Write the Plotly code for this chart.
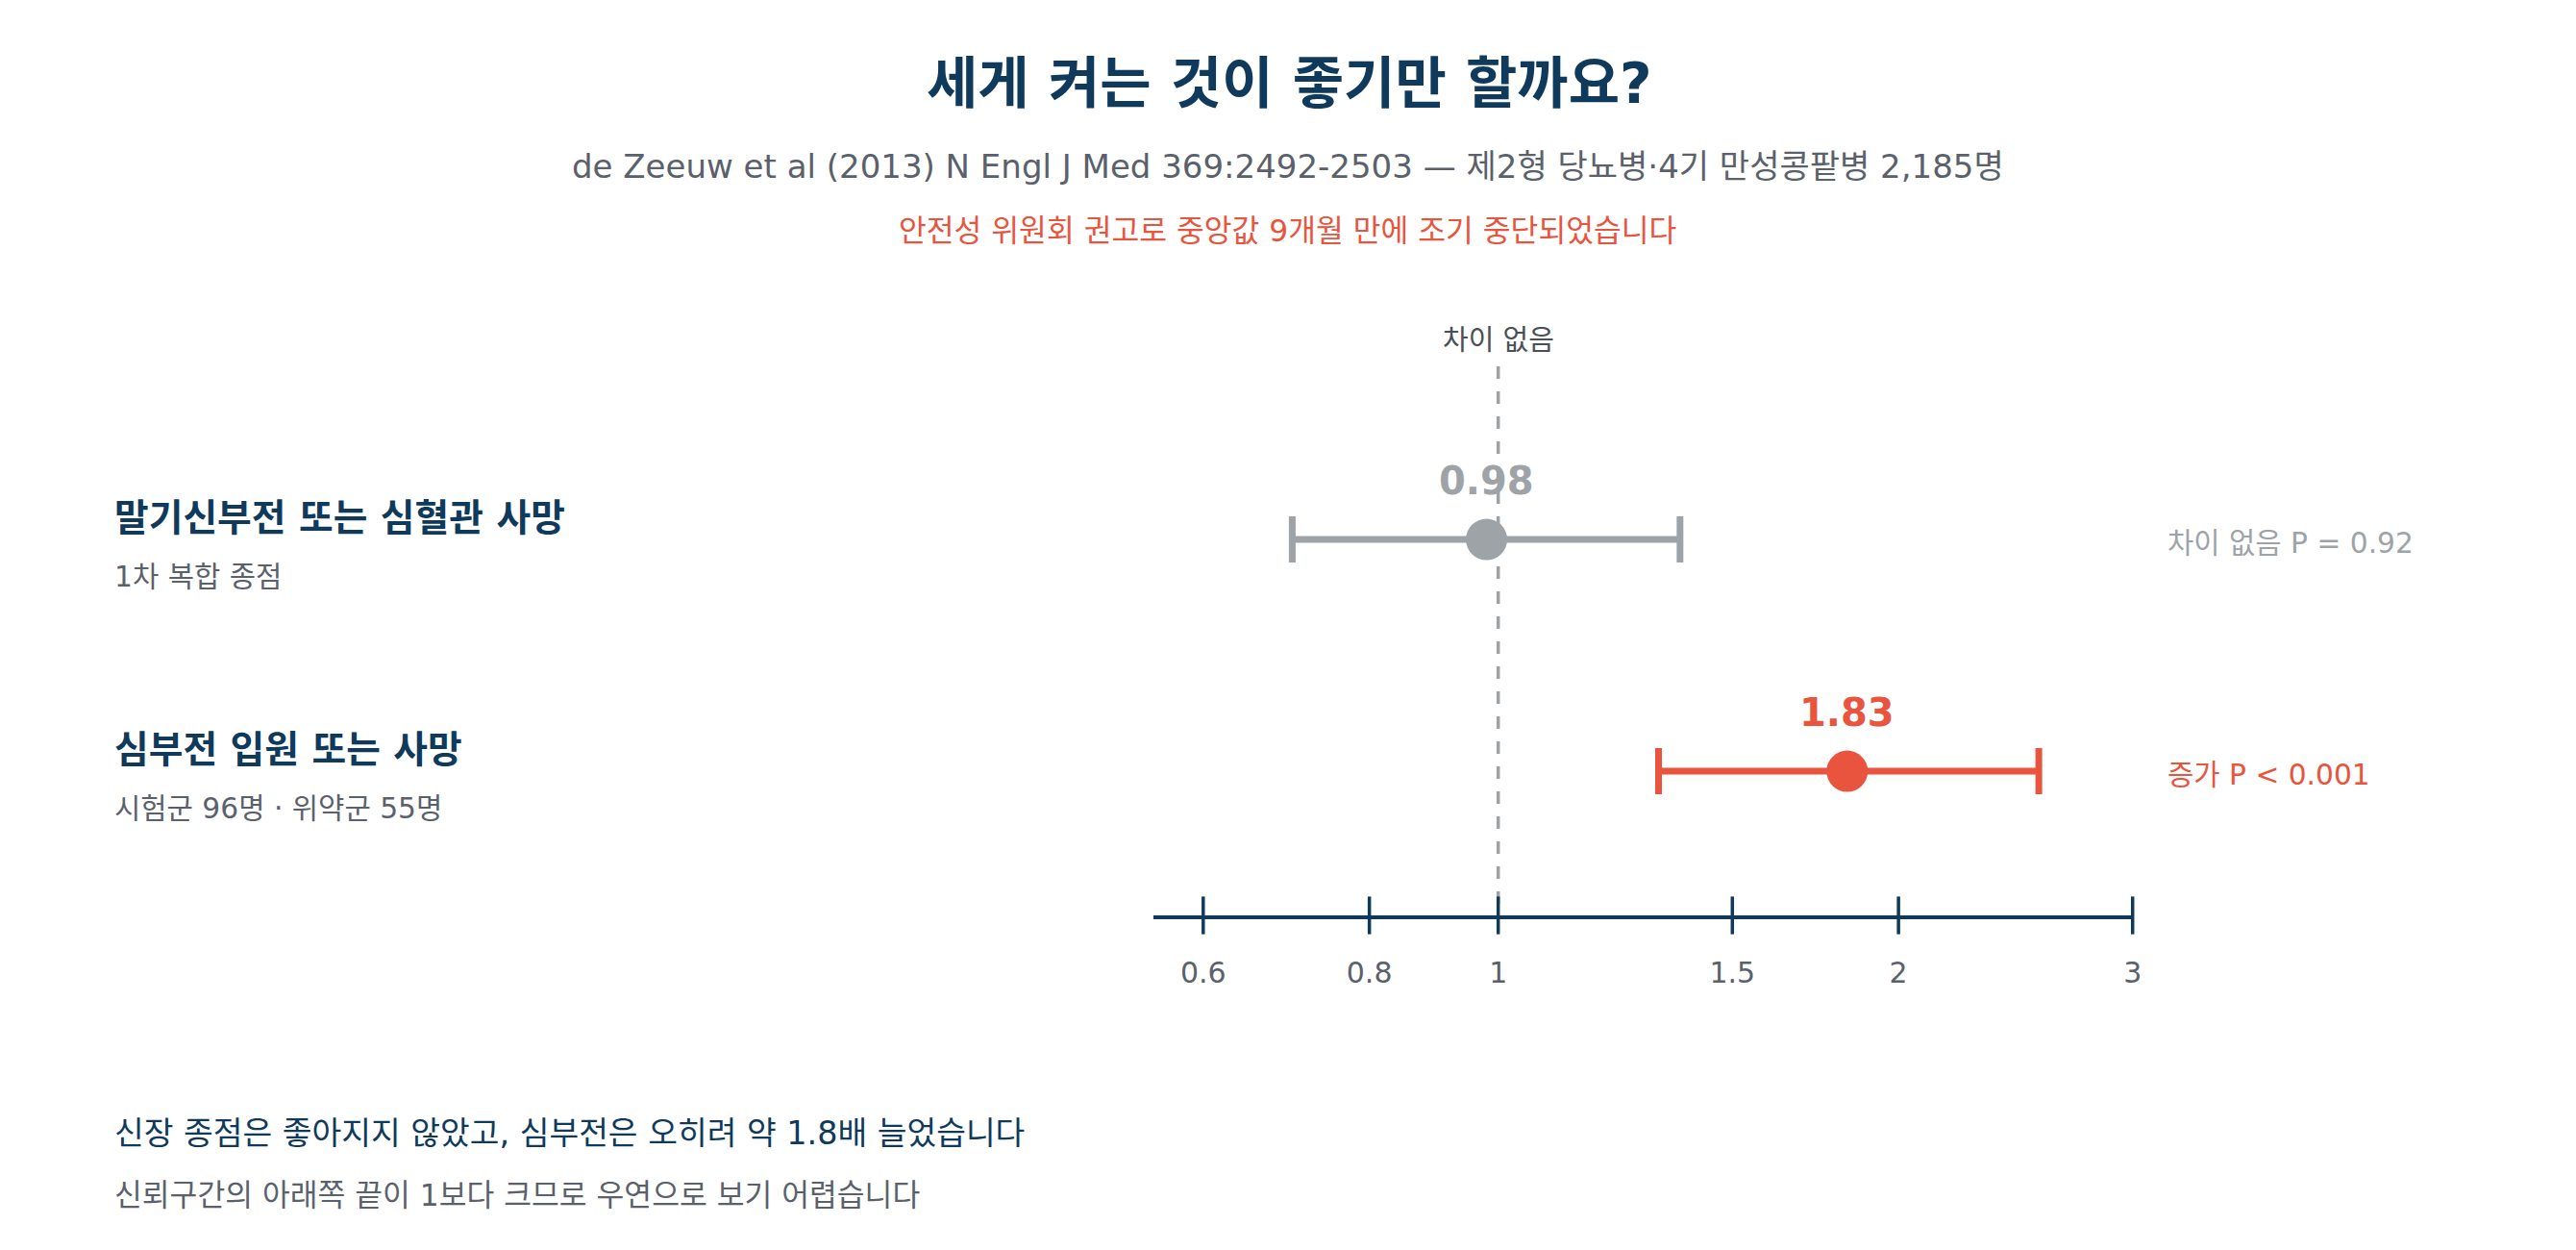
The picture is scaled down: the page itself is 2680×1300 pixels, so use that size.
import numpy as np
import plotly.graph_objects as go

# ---------------- data ----------------
TITLE = "세게 켜는 것이 좋기만 할까요?"
SUBTITLE = "de Zeeuw et al (2013) N Engl J Med 369:2492-2503 — 제2형 당뇨병·4기 만성콩팥병 2,185명"
NOTE = "안전성 위원회 권고로 중앙값 9개월 만에 조기 중단되었습니다"

outcomes = ["말기신부전 또는 심혈관 사망", "심부전 입원 또는 사망"]
outcome_notes = ["1차 복합 종점", "시험군 96명 · 위약군 55명"]
hazard_ratios = [0.98, 1.83]
ci_low = [0.70, 1.32]
ci_high = [1.37, 2.55]
hr_labels = ["0.98", "1.83"]
p_labels = ["차이 없음 P = 0.92", "증가 P < 0.001"]
significant = [False, True]
row_positions = [2, 1]

tick_values = [0.6, 0.8, 1, 1.5, 2, 3]
tick_labels = ["0.6", "0.8", "1", "1.5", "2", "3"]
x_limits = [0.55, 3]
y_limits = [0.378, 2.747]
null_value = 1
null_label = "차이 없음"

takeaway = "신장 종점은 좋아지지 않았고, 심부전은 오히려 약 1.8배 늘었습니다"
takeaway_note = "신뢰구간의 아래쪽 끝이 1보다 크므로 우연으로 보기 어렵습니다"

# ---------------- style ----------------
W, H = 2680, 1300
OFF = 8  # page offset of the figure
FONT = "DejaVu Sans, Noto Sans CJK KR, sans-serif"
NAVY = "#0f3a5c"
GRAY = "#9ea3a8"
RED = "#e8543e"
TEXT_GRAY = "#5b616b"
DASH_GRAY = "#9ea1a6"


def px_x(p):
    return (p - OFF) / W


def px_y(p):
    return 1 - (p - OFF) / H


fig = go.Figure()

# reference (null) line, drawn from the top so the dash pattern starts there
fig.add_trace(go.Scatter(
    x=[null_value, null_value], y=[y_limits[1], y_limits[0]], mode="lines",
    line=dict(color=DASH_GRAY, width=3.5, dash="13px,13px"),
    hoverinfo="skip", showlegend=False, cliponaxis=False,
))

# estimates with confidence intervals
for hr, lo, hi, row, sig in zip(hazard_ratios, ci_low, ci_high, row_positions, significant):
    c = RED if sig else GRAY
    fig.add_trace(go.Scatter(
        x=[hr], y=[row], mode="markers",
        marker=dict(size=43, color=c, line=dict(width=0)),
        error_x=dict(type="data", symmetric=False,
                     array=[hi - hr], arrayminus=[hr - lo],
                     color=c, thickness=7, width=24),
        showlegend=False, hoverinfo="skip", cliponaxis=False,
    ))

# crossing tick marks on the axis line
fig.add_trace(go.Scatter(
    x=tick_values, y=[y_limits[0]] * len(tick_values), mode="markers",
    marker=dict(symbol="line-ns", size=28, line=dict(width=3.5, color=NAVY), color=NAVY),
    showlegend=False, hoverinfo="skip", cliponaxis=False,
))

annotations = []


def ann(text, x, y, size, color, bold=False, xanchor="center", xref="paper", yref="paper", yshift=0):
    annotations.append(dict(
        text=text, x=x, y=y, xref=xref, yref=yref, xanchor=xanchor, yanchor="middle",
        showarrow=False, yshift=yshift,
        font=dict(family=FONT, size=size, color=color, weight=700 if bold else 400),
    ))


ann(TITLE, px_x(1346), px_y(87), 58, NAVY, bold=True)
ann(SUBTITLE, px_x(1345), px_y(173), 34, TEXT_GRAY)
ann(NOTE, px_x(1344), px_y(240), 31.3, RED)
ann(null_label, np.log10(null_value), px_y(354), 29, "#4b5058", xref="x")

for name, note, hr, lab, p, row, sig in zip(outcomes, outcome_notes, hazard_ratios, hr_labels,
                                            p_labels, row_positions, significant):
    c = RED if sig else GRAY
    ann(name, px_x(117), row, 38.8, NAVY, bold=True, xanchor="left", yref="y", yshift=23)
    ann(note, px_x(117), row, 29.7, TEXT_GRAY, xanchor="left", yref="y", yshift=-38)
    ann(lab, np.log10(hr), row, 40, c, bold=True, xref="x", yref="y", yshift=61)
    ann(p, px_x(2261), row, 29.7, c, xanchor="left", yref="y", yshift=-3)

ann(takeaway, px_x(117), px_y(1178), 33.4, NAVY, xanchor="left")
ann(takeaway_note, px_x(117), px_y(1243), 31.3, TEXT_GRAY, xanchor="left")

fig.update_layout(
    width=W, height=H,
    margin=dict(l=0, r=0, t=0, b=0),
    paper_bgcolor="white", plot_bgcolor="white",
    showlegend=False,
    font=dict(family=FONT),
    annotations=annotations,
    xaxis=dict(
        type="log", range=[np.log10(x_limits[0]), np.log10(x_limits[1])],
        domain=[px_x(1204), px_x(2227)],
        showline=True, linecolor=NAVY, linewidth=3.5,
        ticks="", tickvals=tick_values, ticktext=tick_labels,
        tickfont=dict(family=FONT, size=30, color=TEXT_GRAY),
        ticklabelstandoff=30,
        showgrid=False, zeroline=False, fixedrange=True,
    ),
    yaxis=dict(
        range=y_limits, domain=[px_y(952), px_y(381)],
        showline=False, showticklabels=False, ticks="",
        showgrid=False, zeroline=False, fixedrange=True,
    ),
)

fig.write_html("out.html")
